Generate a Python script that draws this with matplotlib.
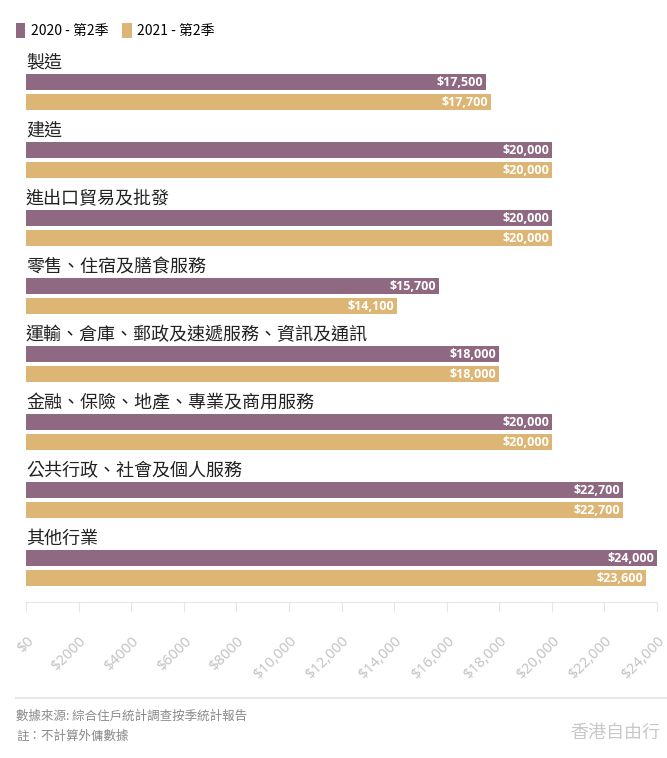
import matplotlib
matplotlib.use("Agg")
import matplotlib.pyplot as plt
from matplotlib.patches import Patch
from matplotlib.lines import Line2D

plt.rcParams['font.family'] = ['Noto Sans CJK TC', 'DejaVu Sans']

# data
categories = ['製造', '建造', '進出口貿易及批發', '零售、住宿及膳食服務',
              '運輸、倉庫、郵政及速遞服務、資訊及通訊',
              '金融、保險、地產、專業及商用服務',
              '公共行政、社會及個人服務', '其他行業']
q2_2020 = [17500, 20000, 20000, 15700, 18000, 20000, 22700, 24000]
q2_2021 = [17700, 20000, 20000, 14100, 18000, 20000, 22700, 23600]
series_names = ['2020 - 第2季', '2021 - 第2季']
tick_values = list(range(0, 24001, 2000))
tick_labels = ['$0', '$2000', '$4000', '$6000', '$8000', '$10,000', '$12,000',
               '$14,000', '$16,000', '$18,000', '$20,000', '$22,000', '$24,000']

purple = '#8f6882'
gold = '#ddb574'

W, H = 667, 758
fig = plt.figure(figsize=(W / 100, H / 100), dpi=100)
ax = fig.add_axes([26 / W, (H - 602) / H, 631 / W, 554 / H])

bar_h = 0.24
offset = 0.295
idx = list(range(len(categories)))
ax.barh(idx, q2_2020, height=bar_h, color=purple)
ax.barh([i + offset for i in idx], q2_2021, height=bar_h, color=gold)

lab_font = ['Open Sans', 'DejaVu Sans']
for i in idx:
    ax.text(0, i - 0.28, categories[i], fontsize=13, color='#222222',
            ha='left', va='center')
    ax.text(q2_2020[i] - 110, i, f'${q2_2020[i]:,}', color='white',
            fontsize=9, fontweight='bold', ha='right', va='center',
            family=lab_font)
    ax.text(q2_2021[i] - 110, i + offset, f'${q2_2021[i]:,}', color='white',
            fontsize=9, fontweight='bold', ha='right', va='center',
            family=lab_font)

ax.set_xlim(0, 24000)
ax.set_ylim(7.647, -0.5)
ax.set_yticks([])
for s in ['top', 'right', 'left']:
    ax.spines[s].set_visible(False)
ax.spines['bottom'].set_color('#e6e6e6')
ax.set_xticks(tick_values)
ax.set_xticklabels(tick_labels, rotation=45, ha='right', va='top',
                   rotation_mode='anchor', color='#c4c4c4', fontsize=10.5,
                   family=['Noto Sans', 'DejaVu Sans'])
ax.tick_params(axis='x', direction='out', length=7, color='#e6e6e6', pad=16)

handles = [Patch(facecolor=purple, label=series_names[0]),
           Patch(facecolor=gold, label=series_names[1])]
fig.legend(handles=handles, loc='upper left', bbox_to_anchor=(3 / W, 1 - 10 / H),
           ncol=2, frameon=False, fontsize=10, handlelength=0.7,
           handleheight=1.3, handletextpad=0.4, columnspacing=1.0)

fig.add_artist(Line2D([16 / W, 1], [1 - 698 / H, 1 - 698 / H], color='#e8e8e8', lw=1.5))
fig.text(16 / W, 1 - 716 / H, '數據來源: 綜合住戶統計調查按季統計報告', fontsize=9,
         color='#8a8a8a', va='center')
fig.text(16 / W, 1 - 736 / H, '註：不計算外傭數據', fontsize=9,
         color='#8a8a8a', va='center')
fig.text(660 / W, 1 - 733 / H, '香港自由行', fontsize=13, color='#c8c8c8',
         ha='right', va='center')

fig.savefig('out.png', dpi=100)
